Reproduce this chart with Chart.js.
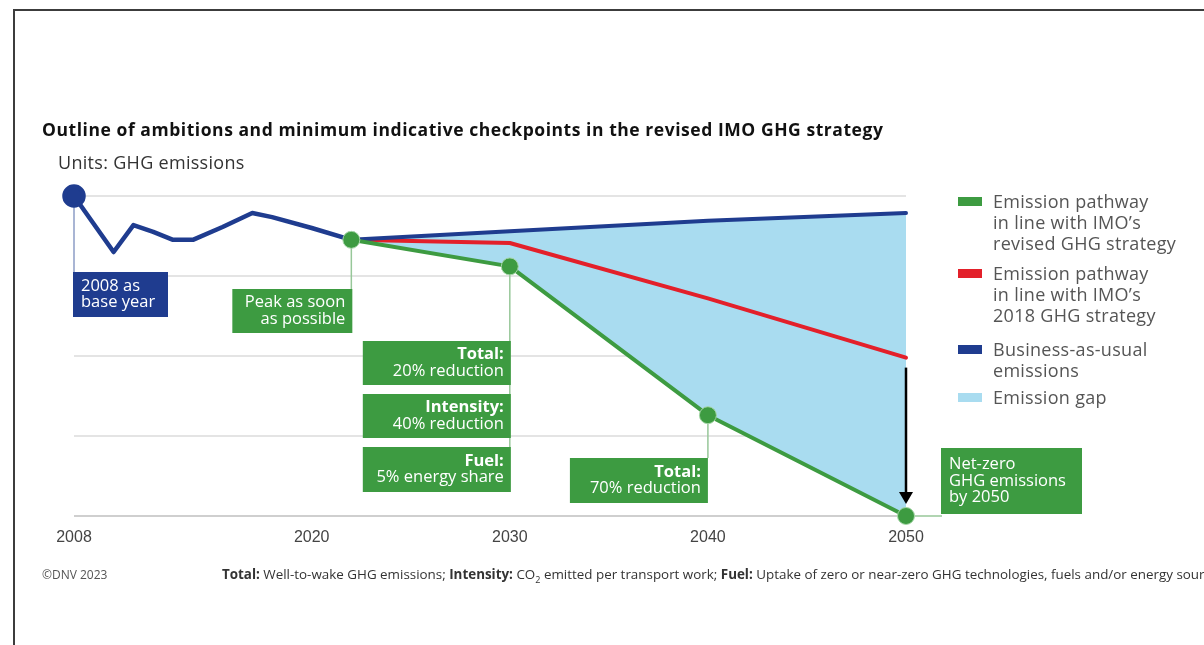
<!DOCTYPE html>
<html>
<head>
<meta charset="utf-8">
<script src="https://cdn.jsdelivr.net/npm/chart.js@4.4.0/dist/chart.umd.min.js"></script>
<style>
  body { margin: 0; background: #fff; }
  #page { position: relative; width: 1204px; height: 645px; overflow: hidden; font-family: "Open Sans", sans-serif; }
  #frame { position: absolute; left: 13px; top: 9px; width: 1200px; height: 650px; border-top: 2px solid #3c3c3c; border-left: 2px solid #3c3c3c; }
  #chartBox { position: absolute; left: 0; top: 0; width: 1204px; height: 645px; }
  #title { position: absolute; left: 42px; top: 117px; font-weight: 700; font-size: 17.5px; letter-spacing: 0.55px; color: #111; white-space: nowrap; }
  #units { position: absolute; left: 58px; top: 150px; font-size: 18px; letter-spacing: 0.3px; color: #333; white-space: nowrap; }
  .leg { position: absolute; left: 993px; font-size: 18px; letter-spacing: 0.3px; line-height: 21px; color: #555; white-space: nowrap; }
  .sw { position: absolute; left: -35px; top: 6px; width: 24px; height: 9px; }
  #copy { position: absolute; left: 42px; top: 566px; font-size: 12px; color: #555; }
  #foot { position: absolute; left: 222px; top: 565px; font-size: 13.4px; color: #333; white-space: nowrap; }
  #foot b { font-weight: 700; }
</style>
</head>
<body>
<div id="page">
  <div id="frame"></div>
  <div id="chartBox"><canvas id="ghgChart"></canvas></div>
  <div id="title">Outline of ambitions and minimum indicative checkpoints in the revised IMO GHG strategy</div>
  <div id="units">Units: GHG emissions</div>
  <div id="legend"></div>
  <div id="copy">©DNV 2023</div>
  <div id="foot"><b>Total:</b> Well-to-wake GHG emissions; <b>Intensity:</b> CO<sub style="font-size:9px">2</sub> emitted per transport work; <b>Fuel:</b> Uptake of zero or near-zero GHG technologies, fuels and/or energy sources</div>
</div>
<script>
// data, 2008 = 100
const histYears = [2008, 2010, 2011, 2012, 2013, 2014, 2015.5, 2017, 2018, 2020, 2022]
const histValues = [100, 82.5, 90.9, 88.8, 86.3, 86.3, 90.3, 94.7, 93.4, 90, 86.3]

const pathYears = [2022, 2030, 2040, 2050]
const bauValues = [86.3, 89, 92.3, 94.7]
const oldValues = [86.3, 85.3, 68, 49.5]   // 2018 strategy
const newValues = [86.3, 78, 31.5, 0]      // revised strategy

const tickYears = [2008, 2020, 2030, 2040, 2050]

const legendLabels = [
  ['Emission pathway', 'in line with IMO\u2019s', 'revised GHG strategy'],
  ['Emission pathway', 'in line with IMO\u2019s', '2018 GHG strategy'],
  ['Business-as-usual', 'emissions'],
  ['Emission gap']
]

const noteText = [
  ['2008 as', 'base year'],
  ['Peak as soon', 'as possible'],
  ['Total:', '20% reduction'],
  ['Intensity:', '40% reduction'],
  ['Fuel:', '5% energy share'],
  ['Total:', '70% reduction'],
  ['Net-zero', 'GHG emissions', 'by 2050']
]

const GREEN = '#3d9b41'
const RED = '#e3202a'
const BLUE = '#1f3c8f'
const GAP = '#a9dcf0'

function pts(xs, ys) {
  return xs.map((x, i) => ({ x: x, y: ys[i] }))
}

/* legend */
let legColors = [GREEN, RED, BLUE, GAP]
let legTops = [191, 263, 339, 387]
let LEG = ''
for (let i = 0; i < legendLabels.length; i++) {
  LEG += "<div class='leg' style='top:" + legTops[i] + "px'><span class='sw' style='background:" + legColors[i] + "'></span>" + legendLabels[i].join('<br>') + "</div>"
}
document.getElementById('legend').innerHTML = LEG

/* boxes and connectors */
function drawBox(ctx, left, top, w, h, color, lines, align, boldFirst) {
  ctx.fillStyle = color
  ctx.fillRect(left, top, w, h)
  ctx.fillStyle = '#fff'
  ctx.textBaseline = 'middle'
  ctx.textAlign = align
  let tx = align === 'right' ? left + w - 7 : left + 8
  let step = 16.5
  let y0 = top + (h - step * (lines.length - 1)) / 2
  lines.forEach((t, i) => {
    ctx.font = (boldFirst && i === 0 ? '700 ' : '400 ') + '16.5px "Open Sans"'
    ctx.fillText(t, tx, y0 + i * step)
  })
}

function vline(ctx, x, y1, y2, color) {
  ctx.strokeStyle = color
  ctx.lineWidth = 1.5
  ctx.beginPath()
  ctx.moveTo(x, y1)
  ctx.lineTo(x, y2)
  ctx.stroke()
}

const notesPlugin = {
  id: 'notes',
  beforeDatasetsDraw(chart) {
    const ctx = chart.ctx
    const xs = chart.scales.x, ys = chart.scales.y
    const px = v => xs.getPixelForValue(v)
    const py = v => ys.getPixelForValue(v)
    ctx.save()

    // connectors
    vline(ctx, px(2008), py(histValues[0]), 272, '#8d9cc6')
    vline(ctx, px(2022), py(newValues[0]), 289, '#97c799')
    vline(ctx, px(2030), py(newValues[1]), 492, '#97c799')
    vline(ctx, px(2040), py(newValues[2]), 458, '#97c799')
    ctx.strokeStyle = '#97c799'
    ctx.beginPath()
    ctx.moveTo(px(2050), py(0))
    ctx.lineTo(px(2050) + 36, py(0))
    ctx.stroke()

    drawBox(ctx, px(2008) - 1, 272, 95, 45, BLUE, noteText[0], 'left', false)
    drawBox(ctx, px(2022) + 1 - 120, 289, 120, 44, GREEN, noteText[1], 'right', false)
    drawBox(ctx, px(2030) + 1 - 148, 341, 148, 44, GREEN, noteText[2], 'right', true)
    drawBox(ctx, px(2030) + 1 - 148, 394, 148, 44, GREEN, noteText[3], 'right', true)
    drawBox(ctx, px(2030) + 1 - 148, 447, 148, 45, GREEN, noteText[4], 'right', true)
    drawBox(ctx, px(2040) - 138, 458, 138, 45, GREEN, noteText[5], 'right', true)
    drawBox(ctx, px(2050) + 35, 448, 141, 66, GREEN, noteText[6], 'left', false)

    // arrow down to net zero
    let ax = px(2050)
    let a1 = py(oldValues[3]) + 10
    let a2 = py(0) - 12
    ctx.strokeStyle = '#000'
    ctx.lineWidth = 2.5
    ctx.beginPath()
    ctx.moveTo(ax, a1)
    ctx.lineTo(ax, a2 - 10)
    ctx.stroke()
    ctx.fillStyle = '#000'
    ctx.beginPath()
    ctx.moveTo(ax - 7, a2 - 12)
    ctx.lineTo(ax + 7, a2 - 12)
    ctx.lineTo(ax, a2)
    ctx.closePath()
    ctx.fill()

    ctx.restore()
  }
}

const data = {
  datasets: [
    {
      label: 'Emission pathway in line with IMO\u2019s revised GHG strategy',
      data: pts(pathYears, newValues),
      borderColor: GREEN,
      backgroundColor: GAP,
      fill: { target: 1 },
      borderWidth: 4,
      pointRadius: 8.5,
      pointBackgroundColor: GREEN,
      pointBorderColor: '#a6d6a8',
      pointBorderWidth: 1,
      clip: false
    },
    {
      label: 'Business-as-usual emissions',
      data: pts(pathYears, bauValues),
      borderColor: BLUE,
      borderWidth: 4,
      pointRadius: 0,
      fill: false,
      clip: false
    },
    {
      label: 'Emission pathway in line with IMO\u2019s 2018 GHG strategy',
      data: pts(pathYears, oldValues),
      borderColor: RED,
      borderWidth: 4,
      pointRadius: 0,
      fill: false,
      clip: false
    },
    {
      label: 'Historical',
      data: pts(histYears, histValues),
      borderColor: BLUE,
      borderWidth: 4.5,
      pointRadius: c => c.dataIndex === 0 ? 9.5 : 0,
      pointBackgroundColor: BLUE,
      pointBorderColor: BLUE,
      fill: false,
      clip: false
    }
  ]
}

const config = {
  type: 'line',
  data: data,
  options: {
    responsive: true,
    maintainAspectRatio: false,
    animation: false,
    layout: { padding: { left: 74, right: 298, top: 196, bottom: 99 } },
    elements: { line: { tension: 0, borderJoinStyle: 'round', borderCapStyle: 'round' } },
    scales: {
      x: {
        type: 'linear',
        min: 2008,
        max: 2050,
        afterBuildTicks: s => { s.ticks = tickYears.map(v => ({ value: v })) },
        afterFit: s => { s.height = 30 },
        grid: { display: false, drawTicks: false },
        border: { display: false },
        ticks: {
          padding: 12,
          color: '#444',
          font: { family: 'Liberation Sans', size: 16 },
          callback: v => String(v)
        }
      },
      y: {
        min: 0,
        max: 100,
        afterBuildTicks: s => { s.ticks = [0, 25, 50, 75, 100].map(v => ({ value: v })) },
        afterFit: s => { s.width = 0 },
        ticks: { display: false },
        border: { display: false },
        grid: {
          drawTicks: false,
          lineWidth: 2,
          color: c => c.tick.value === 0 ? '#cfcfcf' : '#e4e4e4'
        }
      }
    },
    plugins: {
      legend: { display: false },
      tooltip: { enabled: false },
      filler: { drawTime: 'beforeDatasetsDraw' }
    }
  },
  plugins: [notesPlugin]
}

const ctx = document.getElementById('ghgChart').getContext('2d')
new Chart(ctx, config)
</script>
</body>
</html>
